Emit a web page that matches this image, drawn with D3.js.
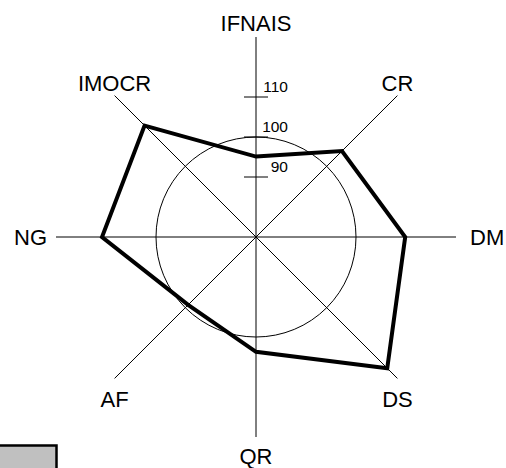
<!DOCTYPE html>
<html>
<head>
<meta charset="utf-8">
<script src="https://cdn.jsdelivr.net/npm/d3@7"></script>
<style>
  html, body { margin: 0; padding: 0; background: #fff; }
  svg { display: block; font-family: "Liberation Sans", Arial, sans-serif; }
</style>
</head>
<body>
<svg id="chart" width="506" height="468"></svg>
<script>
// Radar axes, clockwise from the top
const axes = ["IFNAIS", "CR", "DM", "DS", "QR", "AF", "NG", "IMOCR"];
// Index value on each axis
const values = [95.1, 105.4, 112.3, 121.4, 103.7, 99, 113.5, 114.4];
// Graduations shown on the vertical axis
const ticks = [90, 100, 110];
// Reference level drawn as a circle
const refLevel = [100];

const svg = d3.select("#chart");
const cx = 256, cy = 237, R = 200;

const r = d3.scaleLinear().domain([75, 125]).range([0, R]);
const angle = d3.scaleBand().domain(axes).range([0, 2 * Math.PI]).paddingInner(0).paddingOuter(0);
const ang = a => angle(a); // 0 at top, clockwise

const px = (a, v) => cx + Math.sin(ang(a)) * r(v);
const py = (a, v) => cy - Math.cos(ang(a)) * r(v);

const g = svg.append("g");

// Partially visible legend swatch, lower left
g.append("rect")
  .attr("x", -10).attr("y", 445.5)
  .attr("width", 66.5).attr("height", 40)
  .attr("fill", "#c0c0c0")
  .attr("stroke", "#000").attr("stroke-width", 2.5);

// Spokes
g.selectAll("line.spoke").data(axes).join("line")
  .attr("class", "spoke")
  .attr("x1", cx).attr("y1", cy)
  .attr("x2", d => cx + Math.sin(ang(d)) * R)
  .attr("y2", d => cy - Math.cos(ang(d)) * R)
  .attr("stroke", "#000").attr("stroke-width", 1);

// Reference circle
g.selectAll("circle.ref").data(refLevel).join("circle")
  .attr("class", "ref")
  .attr("cx", cx).attr("cy", cy).attr("r", d => r(d))
  .attr("fill", "none").attr("stroke", "#000").attr("stroke-width", 1);

// Tick marks and labels on the vertical axis
g.selectAll("line.tick").data(ticks).join("line")
  .attr("class", "tick")
  .attr("x1", cx - 12).attr("x2", cx + 12)
  .attr("y1", d => cy - r(d)).attr("y2", d => cy - r(d))
  .attr("stroke", "#000").attr("stroke-width", 1);

g.selectAll("text.tick").data(ticks).join("text")
  .attr("class", "tick")
  .attr("x", cx + 32)
  .attr("y", d => cy - r(d) - 5)
  .attr("text-anchor", "end")
  .attr("font-size", 15.5)
  .text(d => d);

// Data polygon
const line = d3.line()
  .x((d, i) => px(axes[i], d))
  .y((d, i) => py(axes[i], d))
  .curve(d3.curveLinearClosed);

g.append("path")
  .datum(values)
  .attr("d", line)
  .attr("fill", "none")
  .attr("stroke", "#000")
  .attr("stroke-width", 4)
  .attr("stroke-linejoin", "miter");

// Axis labels placed beyond each spoke end
g.selectAll("text.axis").data(axes).join("text")
  .attr("class", "axis")
  .attr("font-size", 22)
  .each(function (d) {
    const a = ang(d);
    const s = Math.sin(a), c = Math.cos(a);
    const ex = cx + s * R, ey = cy - c * R;
    let x = ex, y = ey, anchor = "middle";
    if (Math.abs(s) < 0.01) {
      if (c > 0) { y = ey - 6; } else { y = ey + 27; }
    } else if (Math.abs(c) < 0.01) {
      y = ey + 8;
      if (s > 0) { x = ex + 14; anchor = "start"; } else { x = ex - 9; anchor = "end"; }
    } else if (c > 0) {
      y = ey - 5;
    } else {
      y = ey + 29;
    }
    d3.select(this).attr("x", x).attr("y", y).attr("text-anchor", anchor).text(d);
  });
</script>
</body>
</html>
